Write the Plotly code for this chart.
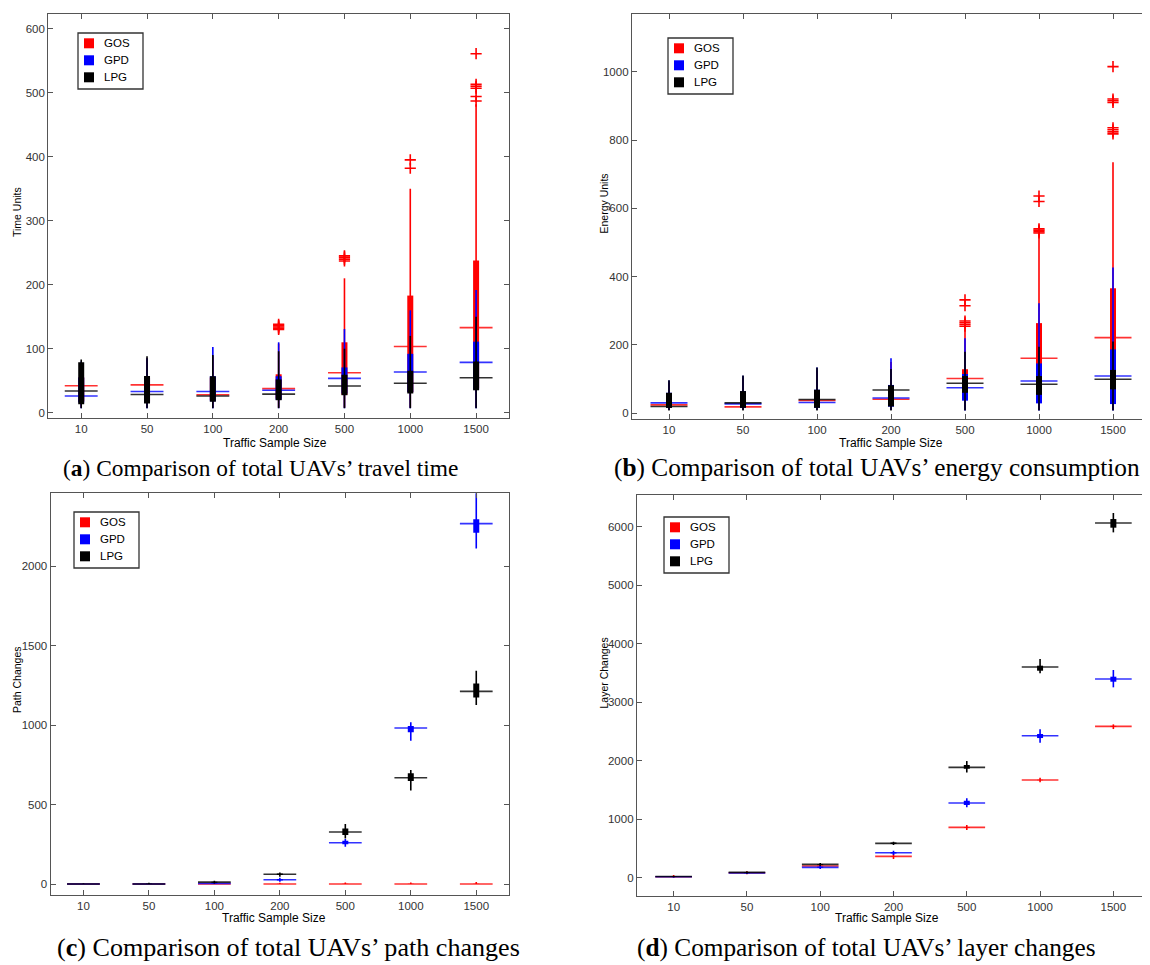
import plotly.graph_objects as go

# The page body has an 8px margin, so the figure is sized to fill the window
# from (8, 8) to (1150, 965); geometry below is given in window pixels.
WIN_W, WIN_H = 1150, 965
OFF = 8
W, H = WIN_W - OFF, WIN_H - OFF

categories = ["10", "50", "100", "200", "500", "1000", "1500"]
series_names = ["GOS", "GPD", "LPG"]
series_colors = ["#ff0000", "#0000ff", "#000000"]

# ---------------- (a) travel time ----------------
a_gos_lo = [8, 8, 8, 8, 8, 8, 8]
a_gos_q1 = [18, 18, 20, 22, 28, 32, 38]
a_gos_q3 = [55, 55, 55, 60, 110, 183, 238]
a_gos_hi = [75, 85, 88, 108, 210, 350, 482]
a_gos_med = [42, 43.5, 28, 37.6, 62.3, 103.4, 133]
a_gpd_lo = [7, 7, 7, 7, 7, 7, 7]
a_gpd_q1 = [16, 16, 18, 20, 30, 32, 36]
a_gpd_q3 = [55, 55, 57, 57, 70.7, 92, 111]
a_gpd_hi = [80, 85, 102.6, 110, 130.7, 160, 191.7]
a_gpd_med = [26, 33, 33, 35, 53.6, 63.5, 78.6]
a_lpg_lo = [7, 7, 7, 7, 7, 7, 7]
a_lpg_q1 = [13, 14.5, 17, 19.5, 27.3, 30, 35]
a_lpg_q3 = [79, 57.5, 57, 52, 59.3, 65.5, 80]
a_lpg_hi = [83, 88, 90, 96, 100, 120, 150]
a_lpg_med = [34, 28.5, 26, 29, 41.7, 46, 54.7]
a_gos_out_cat = ["200", "200", "200", "200", "200", "500", "500", "500", "500",
                 "1000", "1000", "1500", "1500", "1500", "1500", "1500", "1500"]
a_gos_out_val = [130, 132, 134, 136, 138, 237, 240, 243, 245,
                 382, 395, 487, 494, 507, 510, 513, 561]

# ---------------- (b) energy consumption ----------------
b_gos_lo = [10, 10, 10, 10, 10, 10, 10]
b_gos_q1 = [18, 18, 20, 22, 45, 60, 70]
b_gos_q3 = [55, 60, 65, 78, 129, 264, 366]
b_gos_hi = [90, 105, 125, 150, 244, 522, 735]
b_gos_med = [24.6, 18.7, 37.4, 41, 102, 161, 221.5]
b_gpd_lo = [10, 10, 10, 10, 8, 8, 8]
b_gpd_q1 = [16, 16, 16, 19.5, 37, 29, 27]
b_gpd_q3 = [60, 65, 69, 83, 115, 146, 187]
b_gpd_hi = [96, 110, 134, 161, 219.5, 322, 427]
b_gpd_med = [30.5, 27.6, 31.5, 45, 75, 94.6, 109]
b_lpg_lo = [8, 8, 8, 8, 8, 8, 8]
b_lpg_q1 = [15.8, 16, 16, 20, 60, 54, 70]
b_lpg_q3 = [60, 65, 69, 82, 109, 109, 127]
b_lpg_hi = [96.5, 111, 134, 130, 180, 195, 210]
b_lpg_med = [19.7, 30.5, 40.4, 68, 88, 85, 99.5]
b_gos_out_cat = ["500", "500", "500", "500", "500", "500",
                 "1000", "1000", "1000", "1000", "1000", "1000",
                 "1500", "1500", "1500", "1500", "1500", "1500", "1500", "1500"]
b_gos_out_val = [255, 260, 265, 270, 315, 332,
                 528, 532, 536, 540, 620, 636,
                 818, 824, 830, 836, 910, 915, 920, 1015]

# ---------------- (c) path changes ----------------
c_gos_lo = [0, 0, 0, 0, 0, 0, 0]
c_gos_q1 = [0, 0, 0, 0, 0, 0, 0]
c_gos_q3 = [0, 0, 0, 2, 2, 2, 2]
c_gos_hi = [2, 3, 3, 8, 10, 10, 12]
c_gos_med = [0, 0, 0, 0, 0, 0, 0]
c_gpd_lo = [0, 0, 0, 15, 235, 902, 2113]
c_gpd_q1 = [0, 0, 1, 22, 250, 955, 2212]
c_gpd_q3 = [1, 2, 5, 32, 273, 995, 2296]
c_gpd_hi = [2, 6, 10, 40, 283, 1018, 2520]
c_gpd_med = [0, 0, 3, 27, 260, 982, 2269]
c_lpg_lo = [0, 0, 3, 46, 287, 588, 1127]
c_lpg_q1 = [0, 0, 8, 57, 308, 648, 1175]
c_lpg_q3 = [1, 2, 15, 66, 350, 697, 1263]
c_lpg_hi = [3, 8, 20, 73, 378, 718, 1343]
c_lpg_med = [0, 0, 12, 61, 327, 669, 1213]

# ---------------- (d) layer changes ----------------
d_gos_lo = [0, 60, 170, 319, 815, 1630, 2541]
d_gos_q1 = [12, 80, 195, 360, 855, 1665, 2580]
d_gos_q3 = [22, 90, 205, 370, 865, 1675, 2595]
d_gos_hi = [45, 110, 230, 399, 900, 1709, 2621]
d_gos_med = [17, 85, 200, 365, 860, 1670, 2587]
d_gpd_lo = [5, 65, 150, 387, 1202, 2308, 3254]
d_gpd_q1 = [10, 75, 170, 415, 1242, 2387, 3350]
d_gpd_q3 = [20, 85, 185, 440, 1316, 2456, 3436]
d_gpd_hi = [30, 95, 210, 461, 1356, 2536, 3550]
d_gpd_med = [15, 80, 177, 427, 1276, 2427, 3396]
d_lpg_lo = [10, 70, 205, 558, 1800, 3493, 5903]
d_lpg_q1 = [15, 85, 220, 575, 1863, 3538, 5983]
d_lpg_q3 = [25, 95, 235, 600, 1926, 3624, 6131]
d_lpg_hi = [30, 105, 250, 615, 1994, 3738, 6234]
d_lpg_med = [20, 90, 228, 587, 1886, 3601, 6063]

y_titles = ["Time Units", "Energy Units", "Path Changes", "Layer Changes"]
x_title = "Traffic Sample Size"
captions = ["(<b>a</b>) Comparison of total UAVs\u2019 travel time",
            "(<b>b</b>) Comparison of total UAVs\u2019 energy consumption",
            "(<b>c</b>) Comparison of total UAVs\u2019 path changes",
            "(<b>d</b>) Comparison of total UAVs\u2019 layer changes"]
y_ticks = [[0, 100, 200, 300, 400, 500, 600],
           [0, 200, 400, 600, 800, 1000],
           [0, 500, 1000, 1500, 2000],
           [0, 1000, 2000, 3000, 4000, 5000, 6000]]

panels = [
    {"stats": [(a_gos_lo, a_gos_q1, a_gos_q3, a_gos_hi, a_gos_med),
               (a_gpd_lo, a_gpd_q1, a_gpd_q3, a_gpd_hi, a_gpd_med),
               (a_lpg_lo, a_lpg_q1, a_lpg_q3, a_lpg_hi, a_lpg_med)],
     "out": (a_gos_out_cat, a_gos_out_val)},
    {"stats": [(b_gos_lo, b_gos_q1, b_gos_q3, b_gos_hi, b_gos_med),
               (b_gpd_lo, b_gpd_q1, b_gpd_q3, b_gpd_hi, b_gpd_med),
               (b_lpg_lo, b_lpg_q1, b_lpg_q3, b_lpg_hi, b_lpg_med)],
     "out": (b_gos_out_cat, b_gos_out_val)},
    {"stats": [(c_gos_lo, c_gos_q1, c_gos_q3, c_gos_hi, c_gos_med),
               (c_gpd_lo, c_gpd_q1, c_gpd_q3, c_gpd_hi, c_gpd_med),
               (c_lpg_lo, c_lpg_q1, c_lpg_q3, c_lpg_hi, c_lpg_med)],
     "out": None},
    {"stats": [(d_gos_lo, d_gos_q1, d_gos_q3, d_gos_hi, d_gos_med),
               (d_gpd_lo, d_gpd_q1, d_gpd_q3, d_gpd_hi, d_gpd_med),
               (d_lpg_lo, d_lpg_q1, d_lpg_q3, d_lpg_hi, d_lpg_med)],
     "out": None},
]

# geometry in window pixels: plot left, right, top, bottom, x-range, y-range
geom = [
    dict(l=48.3, r=509, t=14, b=418, xr=[0.5, 7.5], yr=[-8.3, 623]),
    dict(l=632, r=1150, t=14, b=419, xr=[0.5, 7.5], yr=[-16.7, 1169]),
    dict(l=50.7, r=509, t=493.3, b=895, xr=[0.5, 7.5], yr=[-69.2, 2460]),
    dict(l=637, r=1150, t=494.7, b=895.7, xr=[0.5, 7.5], yr=[-308, 6547]),
]
legend_pos = [(78, 33), (668, 38), (74, 512), (664, 517)]
ytitle_pos = [(17, 212), (603.5, 204), (17, 680), (603.5, 673)]
xtitle_pos = [(275, 443), (891, 443), (274, 918), (887, 918)]
caption_pos = [(260, 468), (877, 468), (288.5, 947), (866, 947)]
caption_size = [23.4, 25.3, 26.1, 25.3]


def px(x):
    return (x - OFF) / W


def py(y):
    return 1 - (y - OFF) / H


fig = go.Figure()
half = 0.25
pos = list(range(1, len(categories) + 1))

for p, panel in enumerate(panels):
    ax = "" if p == 0 else str(p + 1)
    xa, ya = "x" + ax, "y" + ax
    for s, (lo, q1, q3, hi, med) in enumerate(panel["stats"]):
        col = series_colors[s]
        wx, wy, bx, by, mx, my = [], [], [], [], [], []
        for i in range(len(categories)):
            wx += [pos[i], pos[i], None]
            wy += [lo[i], hi[i], None]
            bx += [pos[i], pos[i], None]
            by += [q1[i], q3[i], None]
            mx += [pos[i] - half, pos[i] + half, None]
            my += [med[i], med[i], None]
        fig.add_trace(go.Scatter(x=wx, y=wy, mode="lines", xaxis=xa, yaxis=ya,
                                 line=dict(color=col, width=1.6), showlegend=False,
                                 hoverinfo="skip"))
        fig.add_trace(go.Scatter(x=mx, y=my, mode="lines", xaxis=xa, yaxis=ya,
                                 line=dict(color=col, width=1.6), opacity=0.8,
                                 showlegend=False, hoverinfo="skip"))
        fig.add_trace(go.Scatter(x=bx, y=by, mode="lines", xaxis=xa, yaxis=ya,
                                 line=dict(color=col, width=6), showlegend=False,
                                 hoverinfo="skip"))
    if panel["out"] is not None:
        oc, ov = panel["out"]
        ox = [categories.index(c) + 1 for c in oc]
        fig.add_trace(go.Scatter(x=ox, y=ov, mode="markers", xaxis=xa, yaxis=ya,
                                 marker=dict(symbol="cross-thin", size=8,
                                             line=dict(color="#ff0000", width=1.6)),
                                 showlegend=False, hoverinfo="skip"))

layout = dict(width=W, height=H, margin=dict(l=0, r=0, t=0, b=0),
              paper_bgcolor="white", plot_bgcolor="white", showlegend=False)
tick_font = dict(family="Liberation Sans, Arial, sans-serif", size=11.5, color="#333333")
shapes, annotations = [], []
for p, g in enumerate(geom):
    ax = "" if p == 0 else str(p + 1)
    layout["xaxis" + ax] = dict(domain=[px(g["l"]), min(1.0, px(g["r"]))], range=g["xr"],
                                anchor="y" + ax, tickmode="array", tickvals=pos,
                                ticktext=categories, ticks="inside", ticklen=5,
                                tickcolor="#555555", showline=True, linecolor="#555555",
                                linewidth=1.3, mirror="ticks", showgrid=False,
                                zeroline=False, tickfont=tick_font, fixedrange=True)
    layout["yaxis" + ax] = dict(domain=[py(g["b"]), py(g["t"])], range=g["yr"],
                                anchor="x" + ax, tickmode="array", tickvals=y_ticks[p],
                                ticks="inside", ticklen=5, tickcolor="#555555",
                                showline=True, linecolor="#555555", linewidth=1.3,
                                mirror="ticks", showgrid=False, zeroline=False,
                                tickfont=tick_font, fixedrange=True)
    # legend box
    lx, ly = legend_pos[p]
    shapes.append(dict(type="rect", xref="paper", yref="paper",
                       x0=px(lx), x1=px(lx + 65), y0=py(ly + 56), y1=py(ly),
                       line=dict(color="#333333", width=1.3), fillcolor="white"))
    for s, name in enumerate(series_names):
        cy = ly + 10.3 + 17 * s
        shapes.append(dict(type="rect", xref="paper", yref="paper",
                           x0=px(lx + 6), x1=px(lx + 16), y0=py(cy + 5), y1=py(cy - 5),
                           line=dict(width=0), fillcolor=series_colors[s]))
        annotations.append(dict(xref="paper", yref="paper", x=px(lx + 24), y=py(cy),
                                xanchor="left", yanchor="middle", showarrow=False,
                                text=name, font=dict(family="Liberation Sans, Arial",
                                                     size=11.5, color="#000000")))
    tx, ty = ytitle_pos[p]
    annotations.append(dict(xref="paper", yref="paper", x=px(tx), y=py(ty),
                            xanchor="center", yanchor="middle", showarrow=False,
                            textangle=-90, text=y_titles[p],
                            font=dict(family="Liberation Sans, Arial", size=10.5,
                                      color="#000000")))
    tx, ty = xtitle_pos[p]
    annotations.append(dict(xref="paper", yref="paper", x=px(tx), y=py(ty),
                            xanchor="center", yanchor="middle", showarrow=False,
                            text=x_title,
                            font=dict(family="Liberation Sans Narrow, Liberation Sans, Arial",
                                      size=12, color="#000000")))
    tx, ty = caption_pos[p]
    annotations.append(dict(xref="paper", yref="paper", x=px(tx), y=py(ty),
                            xanchor="center", yanchor="middle", showarrow=False,
                            text=captions[p],
                            font=dict(family="Liberation Serif, Times New Roman, serif",
                                      size=caption_size[p], color="#000000")))

layout["shapes"] = shapes
layout["annotations"] = annotations
fig.update_layout(**layout)
fig.write_html("out.html")
